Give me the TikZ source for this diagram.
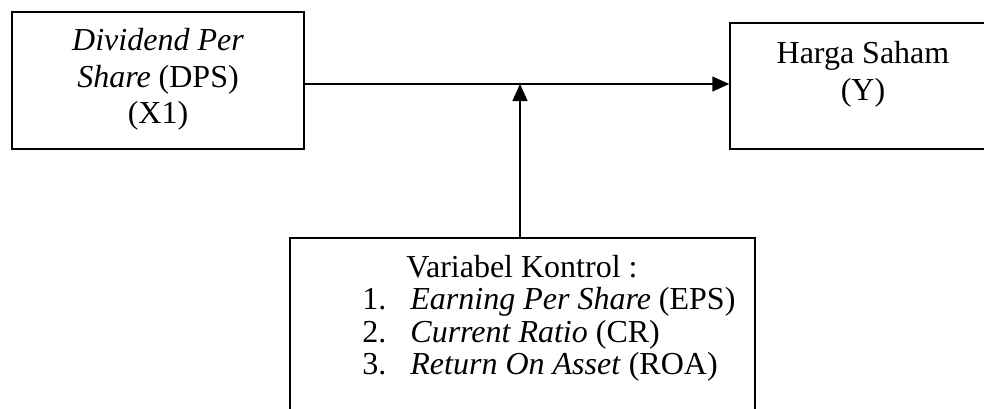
\documentclass[tikz,border=0pt]{standalone}
\usepackage{fontspec}
\setmainfont{Liberation Serif}[ItalicFont={Liberation Serif Italic}]
\usetikzlibrary{arrows.meta}
\tikzset{
  boxnode/.style={draw, line width=0.75pt, rectangle, inner sep=0pt},
  txt/.style={inner sep=0pt, font=\fontsize{16pt}{18.4pt}\selectfont},
  arr/.style={line width=0.75pt, -{Triangle[length=8.5pt,width=7.5pt]}}
}
\begin{document}
\begin{tikzpicture}[x=0.5pt,y=-0.5pt]
\clip (0,0) rectangle (984,408);
\useasboundingbox (0,0) rectangle (984,408);
% boxes
\node[boxnode, minimum width=146pt, minimum height=68.5pt] (L) at (158,80.5) {};
\node[boxnode, minimum width=131pt, minimum height=63pt] (R) at (861,86) {};
\node[boxnode, minimum width=232.5pt, minimum height=101pt] (B) at (522.5,339) {};
% texts left
\node[txt, anchor=base] (l1) at (158,50.5) {\textit{Dividend Per}};
\node[txt, anchor=base] (l2) at (158,87.5) {\textit{Share} (DPS)};
\node[txt, anchor=base] (l3) at (158,123.5) {(X1)};
% texts right
\node[txt, anchor=base] (r1) at (863,63) {Harga Saham};
\node[txt, anchor=base] (r2) at (863,100) {(Y)};
% texts bottom
\node[txt, anchor=base] (b0) at (522,277) {Variabel Kontrol :};
\node[txt, anchor=base west] (n1) at (362,309.5) {1.};
\node[txt, anchor=base west] (n2) at (362,342) {2.};
\node[txt, anchor=base west] (n3) at (362,374.5) {3.};
\node[txt, anchor=base west] (b1) at (410,309.5) {\textit{Earning Per Share} (EPS)};
\node[txt, anchor=base west] (b2) at (410,342) {\textit{Current Ratio} (CR)};
\node[txt, anchor=base west] (b3) at (410,374.5) {\textit{Return On Asset} (ROA)};
% connectors
\coordinate (mid) at (520,84);
\draw[arr] (L.east |- mid) -- (R.west |- mid);
\draw[arr] (B.north -| mid) -- (mid);
\end{tikzpicture}
\end{document}
